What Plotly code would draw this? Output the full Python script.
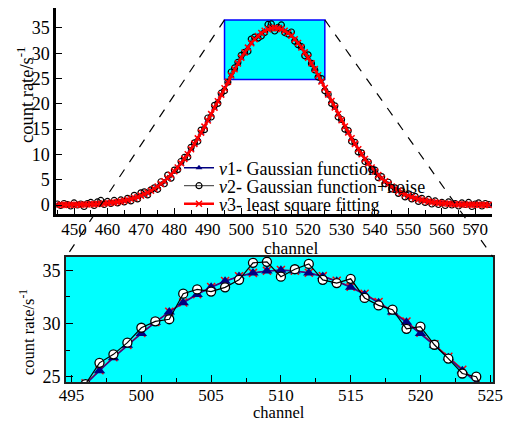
import plotly.graph_objects as go

channels = list(range(445, 575))

v1_gauss = [0.01, 0.02, 0.02, 0.03, 0.03, 0.04, 0.05, 0.07, 0.08, 0.10,
            0.13, 0.15, 0.19, 0.23, 0.28, 0.34, 0.40, 0.48, 0.58, 0.69,
            0.81, 0.96, 1.12, 1.32, 1.54, 1.79, 2.07, 2.39, 2.75, 3.15,
            3.59, 4.08, 4.62, 5.22, 5.86, 6.57, 7.33, 8.15, 9.03, 9.96,
            10.95, 11.99, 13.09, 14.23, 15.42, 16.64, 17.89, 19.16, 20.45, 21.75,
            23.04, 24.31, 25.56, 26.78, 27.95, 29.06, 30.11, 31.08, 31.95, 32.73,
            33.41, 33.97, 34.42, 34.74, 34.93, 35.00, 34.93, 34.74, 34.42, 33.97,
            33.41, 32.73, 31.95, 31.08, 30.11, 29.06, 27.95, 26.78, 25.56, 24.31,
            23.04, 21.75, 20.45, 19.16, 17.89, 16.64, 15.42, 14.23, 13.09, 11.99,
            10.95, 9.96, 9.03, 8.15, 7.33, 6.57, 5.86, 5.22, 4.62, 4.08,
            3.59, 3.15, 2.75, 2.39, 2.07, 1.79, 1.54, 1.32, 1.12, 0.96,
            0.81, 0.69, 0.58, 0.48, 0.40, 0.34, 0.28, 0.23, 0.19, 0.15,
            0.13, 0.10, 0.08, 0.07, 0.05, 0.04, 0.03, 0.03, 0.02, 0.02]

v2_noise = [0.2, -0.1, 0.3, 0.1, -0.2, 0.4, 0.0, 0.2, -0.3, 0.3,
            0.5, -0.1, 0.6, 0.9, 0.1, 0.7, 0.3, 0.9, 0.4, 1.0,
            0.6, 1.3, 0.8, 1.9, 1.2, 2.4, 2.6, 2.0, 3.0, 3.4,
            3.1, 4.6, 4.2, 5.9, 5.3, 6.9, 7.0, 8.6, 9.4, 9.5,
            11.4, 12.3, 12.6, 14.8, 14.9, 17.2, 17.4, 19.7, 20.1, 22.1,
            22.6, 24.3, 26.3, 27.1, 28.2, 29.6, 30.2, 30.4, 32.8, 33.2,
            33.0, 33.4, 34.1, 35.7, 35.8, 34.4, 35.1, 35.6, 34.1, 33.8,
            34.2, 32.4, 31.7, 31.3, 29.5, 29.7, 28.0, 26.7, 25.3, 25.0,
            22.6, 21.9, 20.1, 19.6, 17.4, 16.9, 15.0, 14.7, 12.6, 12.4,
            10.5, 10.3, 8.6, 8.5, 7.0, 6.9, 5.4, 5.6, 4.2, 4.5,
            3.2, 3.4, 2.3, 2.8, 1.6, 2.2, 1.2, 1.7, 0.7, 1.3,
            0.5, 1.1, 0.2, 0.8, 0.1, 0.5, -0.1, 0.6, 0.0, 0.3,
            -0.2, 0.4, 0.1, 0.5, -0.3, 0.2, 0.4, -0.2, 0.3, 0.1]

v3_fit = [0.01, 0.02, 0.02, 0.03, 0.04, 0.05, 0.06, 0.07, 0.09, 0.11,
          0.14, 0.17, 0.20, 0.25, 0.30, 0.36, 0.43, 0.51, 0.61, 0.72,
          0.85, 1.00, 1.17, 1.37, 1.59, 1.85, 2.13, 2.45, 2.82, 3.22,
          3.67, 4.16, 4.70, 5.30, 5.95, 6.66, 7.42, 8.24, 9.12, 10.05,
          11.04, 12.08, 13.17, 14.31, 15.50, 16.72, 17.97, 19.23, 20.52, 21.81,
          23.10, 24.37, 25.61, 26.83, 27.99, 29.10, 30.14, 31.11, 31.98, 32.76,
          33.43, 33.99, 34.44, 34.76, 34.95, 35.02, 34.96, 34.77, 34.45, 34.01,
          33.46, 32.79, 32.02, 31.15, 30.18, 29.14, 28.04, 26.87, 25.66, 24.41,
          23.14, 21.85, 20.55, 19.26, 17.99, 16.74, 15.52, 14.33, 13.19, 12.09,
          11.04, 10.05, 9.11, 8.23, 7.40, 6.64, 5.93, 5.28, 4.68, 4.13,
          3.64, 3.19, 2.79, 2.43, 2.11, 1.82, 1.57, 1.35, 1.15, 0.98,
          0.83, 0.71, 0.60, 0.50, 0.42, 0.35, 0.29, 0.24, 0.20, 0.16,
          0.13, 0.11, 0.09, 0.07, 0.06, 0.05, 0.04, 0.03, 0.02, 0.02]

names = ["<i>v</i>1- Gaussian function",
         "<i>v</i>2- Gaussian function+noise",
         "<i>v</i>3- least square fitting"]

zoom_x = [495, 525]
zoom_y = [24.8, 36.6]

W, H = 520, 423
FONT = "Times New Roman, Liberation Serif, Times, serif"

# layout geometry (pixels)
top_px = dict(l=56, r=492, t=8, b=214)
bot_px = dict(l=66, r=493, t=257, b=382)
xr1, yr1 = [444.6, 575], [-1.78, 38.95]
xr2, yr2 = [494.6, 525.2], [24.5, 36.25]


def dom_x(p):
    return [p["l"] / W, p["r"] / W]


def dom_y(p):
    return [1 - p["b"] / H, 1 - p["t"] / H]


fig = go.Figure()

NAVY = "#000080"
# top plot
fig.add_trace(go.Scatter(x=channels, y=v1_gauss, mode="lines+markers", name=names[0],
                         line=dict(color=NAVY, width=1.5),
                         marker=dict(symbol="triangle-up", size=6, color=NAVY),
                         xaxis="x", yaxis="y", legend="legend"))
fig.add_trace(go.Scatter(x=channels, y=v2_noise, mode="lines+markers", name=names[1],
                         line=dict(color="#333333", width=1),
                         marker=dict(symbol="circle-open", size=6, color="black",
                                     line=dict(width=1.2)),
                         xaxis="x", yaxis="y", legend="legend2"))
fig.add_trace(go.Scatter(x=channels, y=v3_fit, mode="lines+markers", name=names[2],
                         line=dict(color="#FF0000", width=2.5),
                         marker=dict(symbol="x-thin", size=6, color="#FF0000",
                                     line=dict(width=1.5, color="#FF0000")),
                         xaxis="x", yaxis="y", legend="legend3"))

# bottom plot
fig.add_trace(go.Scatter(x=channels, y=v3_fit, mode="lines+markers", showlegend=False,
                         line=dict(color="#FF0000", width=1.2),
                         marker=dict(symbol="x-thin", size=8, color="#FF0000",
                                     line=dict(width=1.5, color="#FF0000")),
                         xaxis="x2", yaxis="y2"))
fig.add_trace(go.Scatter(x=channels, y=v1_gauss, mode="lines+markers", showlegend=False,
                         line=dict(color="#3a0a8a", width=1.5),
                         marker=dict(symbol="triangle-up", size=10, color=NAVY),
                         xaxis="x2", yaxis="y2"))
fig.add_trace(go.Scatter(x=channels, y=v2_noise, mode="markers", showlegend=False,
                         marker=dict(symbol="circle", size=9, color="white",
                                     line=dict(width=1.3, color="black")),
                         xaxis="x2", yaxis="y2"))
fig.add_trace(go.Scatter(x=channels, y=v2_noise, mode="lines", showlegend=False,
                         line=dict(color="black", width=1.2),
                         xaxis="x2", yaxis="y2"))


def to_paper(x, y, xr, yr, p):
    dx, dy = dom_x(p), dom_y(p)
    px = dx[0] + (x - xr[0]) / (xr[1] - xr[0]) * (dx[1] - dx[0])
    py = dy[0] + (y - yr[0]) / (yr[1] - yr[0]) * (dy[1] - dy[0])
    return px, py


shapes = []
# cyan background of bottom plot
shapes.append(dict(type="rect", xref="x2 domain", yref="y2 domain", x0=0, x1=1, y0=0, y1=1,
                   fillcolor="#00FFFF", line=dict(width=0), layer="below"))
# zoom rectangle in top plot
shapes.append(dict(type="rect", xref="x", yref="y", x0=zoom_x[0], x1=zoom_x[1],
                   y0=zoom_y[0], y1=zoom_y[1], fillcolor="#00FFFF",
                   line=dict(color="#0000FF", width=1.5), layer="below"))
# dashed connectors
tl = to_paper(zoom_x[0], zoom_y[1], xr1, yr1, top_px)
tr = to_paper(zoom_x[1], zoom_y[1], xr1, yr1, top_px)
bdx, bdy = dom_x(bot_px), dom_y(bot_px)
shapes.append(dict(type="line", xref="paper", yref="paper", x0=tl[0], y0=tl[1],
                   x1=bdx[0], y1=bdy[1], line=dict(color="black", width=1.2, dash="dash")))
shapes.append(dict(type="line", xref="paper", yref="paper", x0=tr[0], y0=tr[1],
                   x1=bdx[1], y1=bdy[1], line=dict(color="black", width=1.2, dash="dash")))

tickfont = dict(family=FONT, size=17, color="black")


def ann(text, xpx, ypx, size, angle=0):
    return dict(text=text, x=xpx / W, y=1 - ypx / H, xref="paper", yref="paper",
                xanchor="center", yanchor="middle", showarrow=False, textangle=angle,
                font=dict(family=FONT, size=size, color="black"))


annotations = [
    ann("channel", 291, 247.5, 17.5),
    ann("channel", 279, 412.5, 16.5),
    ann("count rate/s<sup>-1</sup>", 25, 95, 18.5, -90),
    ann("count rate/s<sup>-1</sup>", 27, 332, 16.5, -90),
]


def legend_at(ypx):
    return dict(x=179 / W, y=1 - ypx / H, xanchor="left", yanchor="middle",
                bgcolor="rgba(0,0,0,0)", borderwidth=0,
                font=dict(family=FONT, size=18, color="black"), itemwidth=30)


fig.update_layout(
    width=W, height=H,
    margin=dict(l=0, r=0, t=0, b=0),
    paper_bgcolor="white", plot_bgcolor="white",
    font=dict(family=FONT, color="black"),
    showlegend=True,
    legend=legend_at(168), legend2=legend_at(186), legend3=legend_at(204),
    shapes=shapes, annotations=annotations,
    xaxis=dict(domain=dom_x(top_px), range=xr1, anchor="y", showline=True, linewidth=2.5,
               linecolor="black", ticks="inside", ticklen=6, tickwidth=1.2, tickcolor="black",
               tick0=450, dtick=10, showgrid=False, zeroline=False, tickfont=tickfont,
               ticklabelstandoff=-2,
               minor=dict(dtick=5, tick0=445, ticks="inside", ticklen=4, tickcolor="black",
                          showgrid=False),
               automargin=False),
    yaxis=dict(domain=dom_y(top_px), range=yr1, anchor="x", showline=True, linewidth=2.5,
               linecolor="black", ticks="inside", ticklen=6, tickwidth=1.2, tickcolor="black",
               tick0=0, dtick=5, showgrid=False, zeroline=False,
               tickfont=dict(family=FONT, size=18, color="black"),
               automargin=False),
    xaxis2=dict(domain=dom_x(bot_px), range=xr2, anchor="y2", showline=True, mirror=True,
                linewidth=2, linecolor="#222222", ticks="inside", ticklen=7, tickwidth=1.2,
                tickcolor="black", tick0=495, dtick=5, showgrid=False, zeroline=False,
                tickfont=tickfont, ticklabelstandoff=-3,
                minor=dict(dtick=2.5, tick0=495, ticks="inside", ticklen=4, tickcolor="black",
                           showgrid=False),
                automargin=False),
    yaxis2=dict(domain=dom_y(bot_px), range=yr2, anchor="x2", showline=True, mirror=True,
                linewidth=2, linecolor="#222222", ticks="inside", ticklen=7, tickwidth=1.2,
                tickcolor="black", tick0=25, dtick=5, showgrid=False, zeroline=False,
                tickfont=dict(family=FONT, size=18, color="black"),
                minor=dict(dtick=2.5, tick0=25, ticks="inside", ticklen=4, tickcolor="black",
                           showgrid=False),
                automargin=False),
)

fig.write_html("out.html", config={"displayModeBar": False},
               post_script="document.body.style.margin='0';document.body.style.padding='0';")
